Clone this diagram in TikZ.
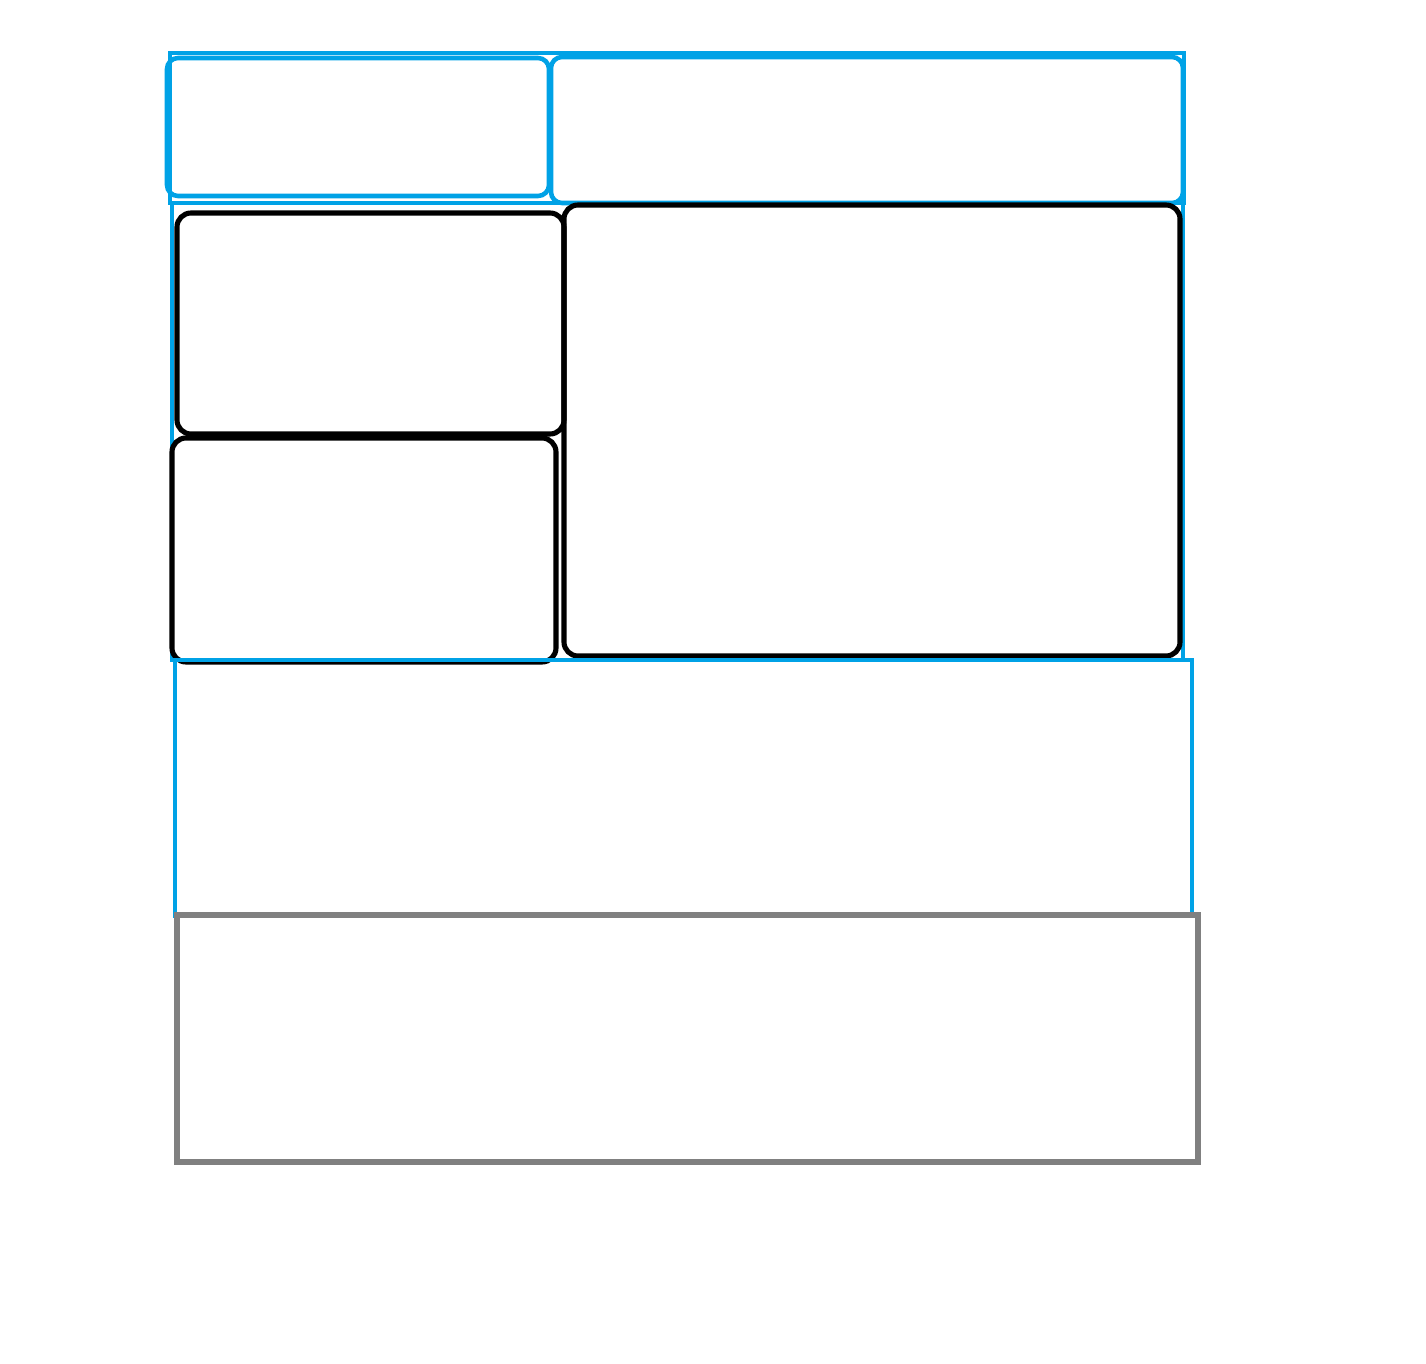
\documentclass[tikz,border=0pt]{standalone}
\definecolor{PanelBlue}{RGB}{0, 162, 230}
\definecolor{FrameGray}{RGB}{128, 128, 128}
\usepackage{tikz}
\usetikzlibrary{positioning}

\begin{document}
\begin{tikzpicture}[
        every node/.style={anchor=north west, inner sep=0pt, outer sep=0pt},
        panel/.style={rectangle, draw=PanelBlue, line width=2.6pt},
        roundpanel/.style={rectangle, draw=PanelBlue, line width=2.6pt, rounded corners=0.22cm},
        card/.style={rectangle, draw=black, line width=2.9pt, rounded corners=0.28cm},
        footer/.style={rectangle, draw=FrameGray, line width=3pt}
    ]
        \useasboundingbox (0,0) rectangle (28.52,-27.28);

        % outer blue frames
        \node [panel, minimum width=20.28cm, minimum height=3.00cm] (head) at (3.40,-1.06) {};
        \node [panel, minimum width=20.22cm, minimum height=9.14cm] (body) at (3.44,-4.06) {};

        % header boxes
        \node [roundpanel, minimum width=7.64cm, minimum height=2.76cm] (logo) at (3.34,-1.16) {};
        \node [roundpanel, minimum width=12.64cm, minimum height=2.92cm] (banner) at (11.02,-1.14) {};

        % content cards
        \node [card, minimum width=7.74cm, minimum height=4.42cm] (upper) at (3.54,-4.26) {};
        \node [card, minimum width=7.68cm, minimum height=4.48cm] (lower) at (3.44,-8.76) {};
        \node [card, minimum width=12.32cm, minimum height=9.02cm] (main) at (11.28,-4.10) {};

        % bottom strips
        \node [panel, minimum width=20.34cm, minimum height=5.12cm] (strip) at (3.50,-13.20) {};
        \node [footer, minimum width=20.42cm, minimum height=4.94cm] (foot) at (3.54,-18.30) {};
    \end{tikzpicture}
\end{document}
